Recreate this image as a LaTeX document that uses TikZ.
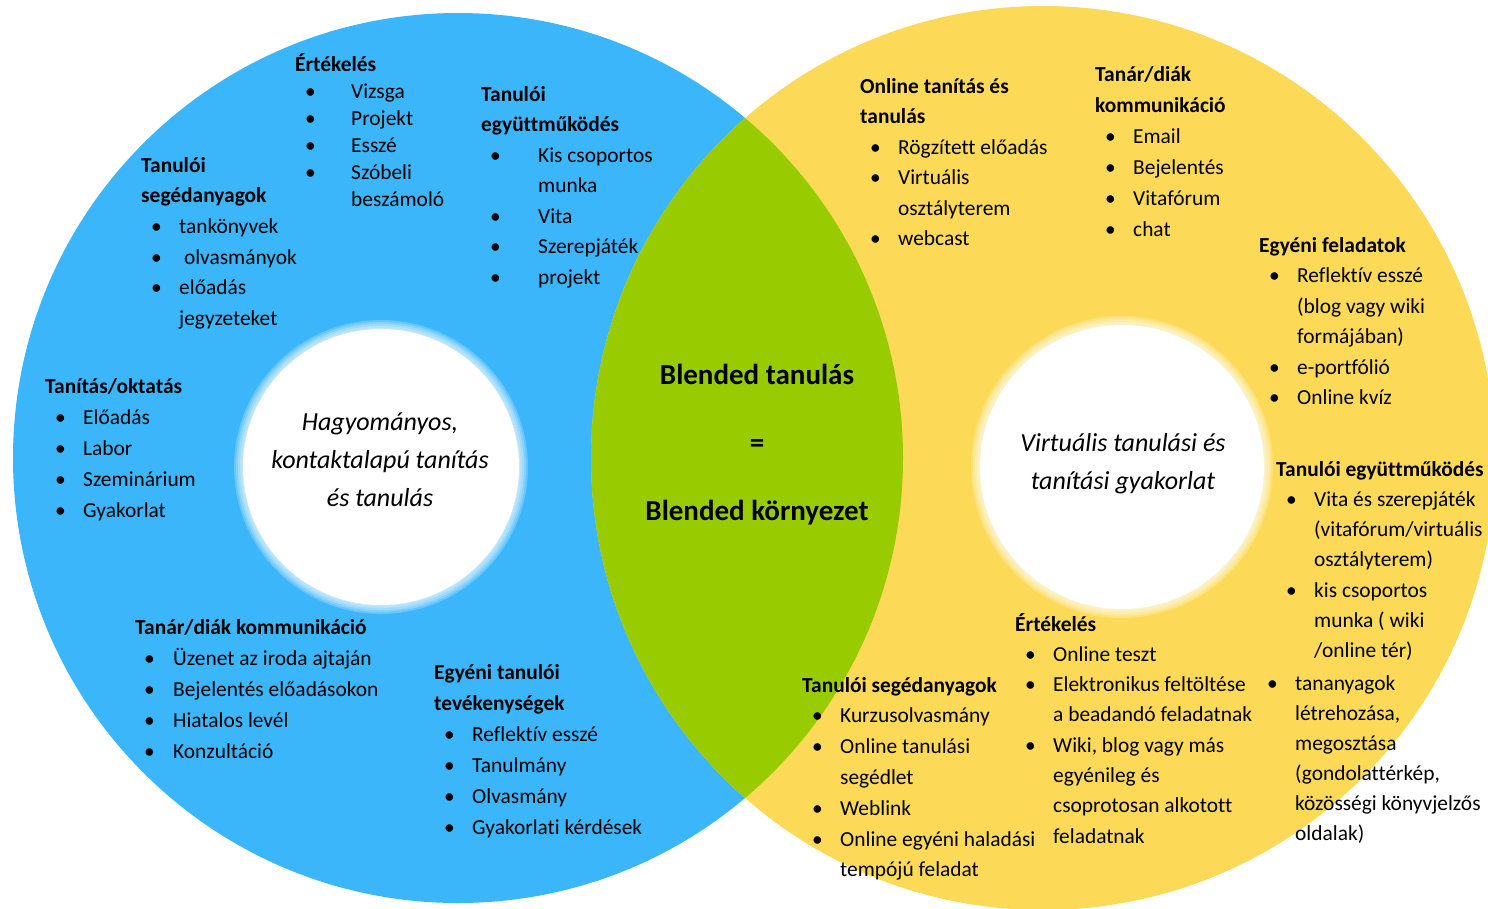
\documentclass[tikz,border=0pt]{standalone}
\usepackage{fontspec}
\setmainfont{Carlito}[Ligatures=NoCommon]
\usepackage{xcolor}
\usetikzlibrary{positioning}

\definecolor{kek}{RGB}{59,182,250}
\definecolor{sarga}{RGB}{252,218,87}
\definecolor{zold}{RGB}{153,204,0}

\newcommand{\cim}[1]{\multicolumn{2}{@{}l@{}}{\textbf{#1}}}

\tikzset{
  blokk/.style={anchor=base west, inner sep=0pt, font=\fontsize{21.4}{#1}\selectfont},
  kozep/.style={align=center, inner sep=0pt, font=\fontsize{26}{38}\selectfont\itshape},
  blend/.style={align=center, inner sep=0pt, font=\fontsize{29}{68}\selectfont\bfseries}
}

\begin{document}
\begin{tikzpicture}[x=1pt, y=-1pt]
  \useasboundingbox (0,0) rectangle (1488,908);
  % the two circles and the blended lens
  \fill[kek] (458,458) circle[radius=445pt];
  \fill[sarga] (1043,458) circle[radius=452pt];
  \begin{scope}
    \clip (458,458) circle[radius=445pt];
    \fill[zold] (1043,458) circle[radius=452pt];
  \end{scope}
  % white inner circles, soft edge
  \foreach \d in {9,7,5,3,1} {
    \fill[white, opacity=0.22] (381,467) circle[radius=138pt+\d pt];
    \fill[white, opacity=0.22] (1122,467) circle[radius=142pt+\d pt];
  }
  \fill[white] (381,467) circle[radius=138pt];
  \fill[white] (1122,467) circle[radius=142pt];

  % left: traditional
  \node[blokk=27] (ertek) at (295,71) {\begin{tabular}[t]{@{\hspace{10pt}}p{46pt}@{}l@{}}
    \cim{Értékelés}\\
    \textbullet & Vizsga\\
    \textbullet & Projekt\\
    \textbullet & Esszé\\
    \textbullet & Szóbeli\\
    & beszámoló
  \end{tabular}};
  \node[blokk=30.7] (segedl) at (141,172) {\begin{tabular}[t]{@{\hspace{10pt}}p{28pt}@{}l@{}}
    \cim{Tanulói}\\
    \cim{segédanyagok}\\
    \textbullet & tankönyvek\\
    \textbullet & \ olvasmányok\\
    \textbullet & előadás\\
    & jegyzeteket
  \end{tabular}};
  \node[blokk=30.5] (egyuttl) at (481,101) {\begin{tabular}[t]{@{\hspace{9pt}}p{48pt}@{}l@{}}
    \cim{Tanulói}\\
    \cim{együttműködés}\\
    \textbullet & Kis csoportos\\
    & munka\\
    \textbullet & Vita\\
    \textbullet & Szerepjáték\\
    \textbullet & projekt
  \end{tabular}};
  \node[blokk=31] (tanit) at (45,393) {\begin{tabular}[t]{@{\hspace{10pt}}p{28pt}@{}l@{}}
    \cim{Tanítás/oktatás}\\
    \textbullet & Előadás\\
    \textbullet & Labor\\
    \textbullet & Szeminárium\\
    \textbullet & Gyakorlat
  \end{tabular}};
  \node[blokk=31] (kommunl) at (135,634) {\begin{tabular}[t]{@{\hspace{9pt}}p{29pt}@{}l@{}}
    \cim{Tanár/diák kommunikáció}\\
    \textbullet & Üzenet az iroda ajtaján\\
    \textbullet & Bejelentés előadásokon\\
    \textbullet & Hiatalos levél\\
    \textbullet & Konzultáció
  \end{tabular}};
  \node[blokk=31] (egyenil) at (434,679) {\begin{tabular}[t]{@{\hspace{10pt}}p{28pt}@{}l@{}}
    \cim{Egyéni tanulói}\\
    \cim{tevékenységek}\\
    \textbullet & Reflektív esszé\\
    \textbullet & Tanulmány\\
    \textbullet & Olvasmány\\
    \textbullet & Gyakorlati kérdések
  \end{tabular}};
  \node[kozep] (hagyom) at (380,460) {Hagyományos,\\kontaktalapú tanítás\\és tanulás};

  % middle
  \node[blend] (blended) at (757,445) {Blended tanulás\\=\\Blended környezet};

  % right: virtual
  \node[blokk=30.5] (online) at (860,93) {\begin{tabular}[t]{@{\hspace{10pt}}p{28pt}@{}l@{}}
    \cim{Online tanítás és}\\
    \cim{tanulás}\\
    \textbullet & Rögzített előadás\\
    \textbullet & Virtuális\\
    & osztályterem\\
    \textbullet & webcast
  \end{tabular}};
  \node[blokk=31] (kommunr) at (1095,81) {\begin{tabular}[t]{@{\hspace{10pt}}p{28pt}@{}l@{}}
    \cim{Tanár/diák}\\
    \cim{kommunikáció}\\
    \textbullet & Email\\
    \textbullet & Bejelentés\\
    \textbullet & Vitafórum\\
    \textbullet & chat
  \end{tabular}};
  \node[blokk=30.5] (feladat) at (1259,252) {\begin{tabular}[t]{@{\hspace{10pt}}p{28pt}@{}l@{}}
    \cim{Egyéni feladatok}\\
    \textbullet & Reflektív esszé\\
    & (blog vagy wiki\\
    & formájában)\\
    \textbullet & e-portfólió\\
    \textbullet & Online kvíz
  \end{tabular}};
  \node[blokk=30.3] (egyuttr) at (1276,476) {\begin{tabular}[t]{@{\hspace{10pt}}p{28pt}@{}l@{}}
    \cim{Tanulói együttműködés}\\
    \textbullet & Vita és szerepjáték\\
    & (vitafórum/virtuális\\
    & osztályterem)\\
    \textbullet & kis csoportos\\
    & munka ( wiki\\
    & /online tér)
  \end{tabular}};
  \node[blokk=30] (tananyag) at (1257,690) {\begin{tabular}[t]{@{\hspace{10pt}}p{28pt}@{}l@{}}
    \textbullet & tananyagok\\
    & létrehozása,\\
    & megosztása\\
    & (gondolattérkép,\\
    & közösségi könyvjelzős\\
    & oldalak)
  \end{tabular}};
  \node[blokk=30.3] (ertekr) at (1015,631) {\begin{tabular}[t]{@{\hspace{10pt}}p{28pt}@{}l@{}}
    \cim{Értékelés}\\
    \textbullet & Online teszt\\
    \textbullet & Elektronikus feltöltése\\
    & a beadandó feladatnak\\
    \textbullet & Wiki, blog vagy más\\
    & egyénileg és\\
    & csoprotosan alkotott\\
    & feladatnak
  \end{tabular}};
  \node[blokk=30.8] (segedr) at (802,692) {\begin{tabular}[t]{@{\hspace{10pt}}p{28pt}@{}l@{}}
    \cim{Tanulói segédanyagok}\\
    \textbullet & Kurzusolvasmány\\
    \textbullet & Online tanulási\\
    & segédlet\\
    \textbullet & Weblink\\
    \textbullet & Online egyéni haladási\\
    & tempójú feladat
  \end{tabular}};
  \node[kozep] (virtual) at (1123,464) {Virtuális tanulási és\\tanítási gyakorlat};
\end{tikzpicture}
\end{document}
